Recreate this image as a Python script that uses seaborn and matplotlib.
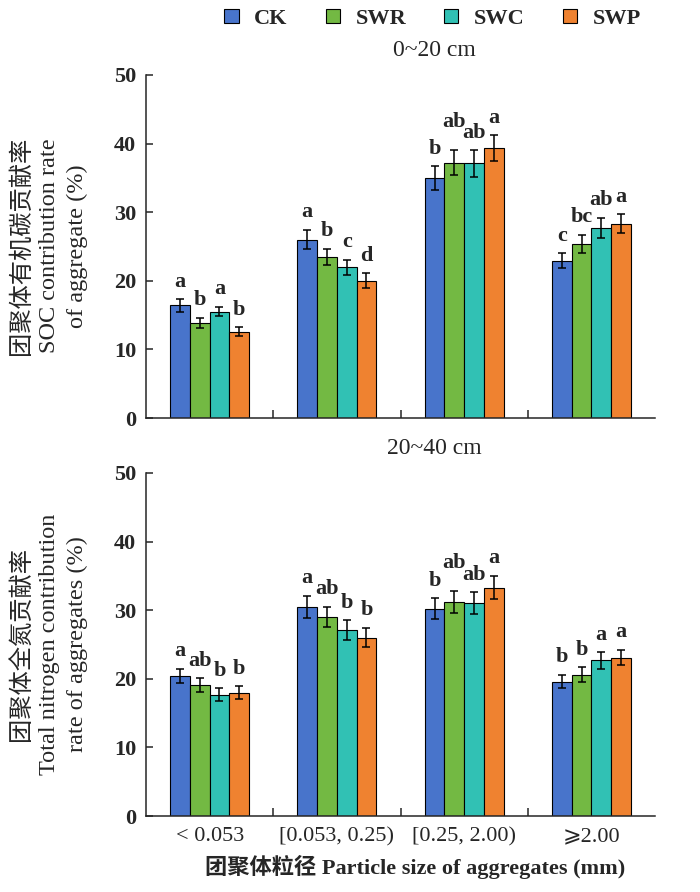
import numpy as np
import pandas as pd
import matplotlib
matplotlib.use('Agg')
import matplotlib.pyplot as plt
import seaborn as sns

# particle size classes and treatments
sizes = ['< 0.053', '[0.053, 0.25)', '[0.25, 2.00)', '⩾2.00']
treatments = ['CK', 'SWR', 'SWC', 'SWP']
colors = ['#4874CB', '#73B943', '#31C1B4', '#EF8230']

# 0~20 cm : SOC contribution rate (%)
soc_ck = [16.4, 26.0, 35.0, 22.9]
soc_swr = [13.9, 23.5, 37.2, 25.4]
soc_swc = [15.5, 22.0, 37.1, 27.7]
soc_swp = [12.6, 20.0, 39.3, 28.3]
soc_err_ck = [0.9, 1.4, 1.7, 1.1]
soc_err_swr = [0.75, 1.2, 1.85, 1.3]
soc_err_swc = [0.7, 1.1, 1.9, 1.5]
soc_err_swp = [0.6, 1.1, 1.9, 1.4]
soc_let_ck = ['a', 'a', 'b', 'c']
soc_let_swr = ['b', 'b', 'ab', 'bc']
soc_let_swc = ['a', 'c', 'ab', 'ab']
soc_let_swp = ['b', 'd', 'a', 'a']

# 20~40 cm : total nitrogen contribution rate (%)
tn_ck = [20.4, 30.5, 30.2, 19.6]
tn_swr = [19.1, 29.0, 31.2, 20.6]
tn_swc = [17.7, 27.1, 31.0, 22.7]
tn_swp = [18.0, 26.0, 33.3, 23.1]
tn_err_ck = [1.05, 1.6, 1.55, 1.0]
tn_err_swr = [1.0, 1.5, 1.6, 1.05]
tn_err_swc = [0.95, 1.4, 1.6, 1.2]
tn_err_swp = [0.9, 1.4, 1.7, 1.1]
tn_let_ck = ['a', 'a', 'b', 'b']
tn_let_swr = ['ab', 'ab', 'ab', 'b']
tn_let_swc = ['b', 'b', 'ab', 'a']
tn_let_swp = ['b', 'b', 'a', 'a']

sns.set_theme(style='ticks')
plt.rcParams['font.family'] = ['Liberation Serif', 'Noto Sans CJK SC', 'DejaVu Sans']
plt.rcParams['axes.linewidth'] = 1.1


def make_df(vals, errs, lets):
    rows = []
    for t, v, e, l in zip(treatments, vals, errs, lets):
        for s, vv, ee, ll in zip(sizes, v, e, l):
            rows.append({'size': s, 'trt': t, 'val': vv, 'err': ee, 'let': ll})
    return pd.DataFrame(rows)


df_soc = make_df([soc_ck, soc_swr, soc_swc, soc_swp],
                 [soc_err_ck, soc_err_swr, soc_err_swc, soc_err_swp],
                 [soc_let_ck, soc_let_swr, soc_let_swc, soc_let_swp])
df_tn = make_df([tn_ck, tn_swr, tn_swc, tn_swp],
                [tn_err_ck, tn_err_swr, tn_err_swc, tn_err_swp],
                [tn_let_ck, tn_let_swr, tn_let_swc, tn_let_swp])

fig = plt.figure(figsize=(7, 8.92), dpi=100)
ax1 = fig.add_axes([146/700, 1 - 418/892, 509/700, 343/892])
ax2 = fig.add_axes([146/700, 1 - 816/892, 509/700, 343/892])


def draw(ax, df, show_xlabels):
    sns.barplot(data=df, x='size', y='val', hue='trt', palette=colors,
                order=sizes, hue_order=treatments, width=0.62, saturation=1,
                edgecolor='black', linewidth=0.8, errorbar=None, ax=ax)
    bar_conts = list(ax.containers)
    for ti, cont in enumerate(bar_conts):
        sub = df[df['trt'] == treatments[ti]].set_index('size').loc[sizes]
        for si, bar in enumerate(cont):
            xc = bar.get_x() + bar.get_width() / 2
            h = bar.get_height()
            e = sub['err'].iloc[si]
            ax.errorbar(xc, h, yerr=e, color='black', elinewidth=1.1,
                        capsize=2.6, capthick=1.1, fmt='none')
            # crowded "ab" labels in the third group are lifted a bit
            lift = 1.5 if (si == 2 and ti == 1) else 0
            ax.text(xc, h + e + 1.1 + lift, sub['let'].iloc[si],
                    ha='center', va='bottom', fontsize=16, fontweight='bold')
    ax.set_xlim(-0.5, 3.5)
    ax.set_ylim(0, 50)
    ax.set_yticks([0, 10, 20, 30, 40, 50])
    ax.set_xlabel('')
    ax.set_ylabel('')
    sns.despine(ax=ax)
    ax.tick_params(axis='y', direction='in', length=5, width=1.1, pad=7, labelsize=16)
    for lab in ax.get_yticklabels():
        lab.set_fontweight('bold')
    ax.set_xticks([0.5, 1.5, 2.5], minor=True)
    ax.tick_params(axis='x', which='minor', direction='in', length=6, width=1.1)
    ax.tick_params(axis='x', which='major', length=0, pad=8, labelsize=16)
    if not show_xlabels:
        ax.set_xticklabels([])
    if ax.get_legend() is not None:
        ax.get_legend().remove()


draw(ax1, df_soc, False)
draw(ax2, df_tn, True)

handles = [plt.Rectangle((0, 0), 1, 1, facecolor=c, edgecolor='black', linewidth=0.8)
           for c in colors]
fig.legend(handles, treatments, loc='center', bbox_to_anchor=(0.618, 0.979), ncol=4,
           frameon=False, handlelength=0.65, handleheight=0.65, handletextpad=0.7,
           columnspacing=1.7, prop={'size': 16, 'weight': 'bold'})

fig.text(434/700, 1 - 51/892, '0~20 cm', ha='center', va='center', fontsize=17)
fig.text(434/700, 1 - 448/892, '20~40 cm', ha='center', va='center', fontsize=17)

fig.text(49/700, 1 - 246/892, '团聚体有机碳贡献率\nSOC contribution rate\nof aggregate (%)',
         rotation=90, ha='center', va='center', multialignment='center',
         fontsize=17.5, linespacing=1.38)
fig.text(49/700, 1 - 644/892, '团聚体全氮贡献率\nTotal nitrogen contribution\nrate of aggregates (%)',
         rotation=90, ha='center', va='center', multialignment='center',
         fontsize=17.5, linespacing=1.38)
fig.text(415/700, 1 - 867/892, '团聚体粒径 Particle size of aggregates (mm)',
         ha='center', va='center', fontsize=16, fontweight='bold')

fig.savefig('out.png', dpi=100)
